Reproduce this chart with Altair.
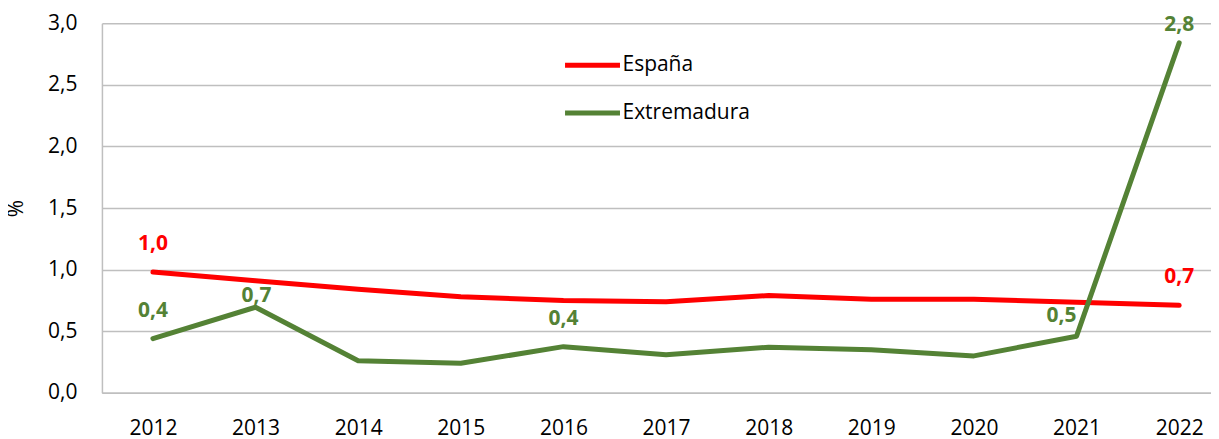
import altair as alt
import pandas as pd

years = [2012, 2013, 2014, 2015, 2016, 2017, 2018, 2019, 2020, 2021, 2022]
espana = [0.98, 0.91, 0.84, 0.78, 0.75, 0.74, 0.79, 0.76, 0.76, 0.735, 0.71]
extremadura = [0.44, 0.695, 0.26, 0.24, 0.375, 0.31, 0.37, 0.35, 0.30, 0.46, 2.84]
series_names = ["España", "Extremadura"]
series_colors = ["#FF0000", "#548235"]
y_ticks = [0.0, 0.5, 1.0, 1.5, 2.0, 2.5, 3.0]

df = pd.DataFrame(
    [{"year": y, "serie": "España", "value": v} for y, v in zip(years, espana)]
    + [{"year": y, "serie": "Extremadura", "value": v} for y, v in zip(years, extremadura)]
)

def lab(v):
    return f"{v:.1f}".replace(".", ",")

df["label"] = df["value"].apply(lab)

FONT = "Open Sans"

x = alt.X(
    "year:Q",
    scale=alt.Scale(domain=[2011.503, 2022.31], nice=False, zero=False),
    axis=alt.Axis(
        values=years, format="d", title=None, grid=False, ticks=False,
        domain=True, domainColor="#BFBFBF", domainWidth=1.5,
        labelFontSize=21, labelFont=FONT, labelColor="#000000", labelPadding=25,
        labelFlush=False, labelOverlap=False,
    ),
)
y = alt.Y(
    "value:Q",
    scale=alt.Scale(domain=[0, 3], nice=False),
    axis=alt.Axis(
        values=y_ticks, title="%", ticks=False, grid=True, gridColor="#BFBFBF", gridWidth=1.5,
        domain=True, domainColor="#BFBFBF", domainWidth=1.5,
        labelExpr="replace(format(datum.value, '.1f'), '.', ',')",
        labelFontSize=21, labelFont=FONT, labelColor="#000000", labelPadding=25,
        titleFontSize=21, titleFont=FONT, titleFontWeight="normal", titleColor="#000000",
        titleX=-85, titleY=185, titleAngle=-90, titleAlign="center", titleBaseline="middle",
    ),
)
color = alt.Color(
    "serie:N",
    scale=alt.Scale(domain=series_names, range=series_colors),
    legend=alt.Legend(
        title=None, orient="none", legendX=461, legendY=12, symbolType="stroke",
        symbolSize=3025, symbolStrokeWidth=5, labelFontSize=21, labelFont=FONT,
        labelColor="#000000", rowPadding=8, labelOffset=0,
    ),
)

lines = alt.Chart(df).mark_line(strokeWidth=5, strokeCap="round", strokeJoin="round").encode(
    x=x, y=y, color=color, order=alt.Order("year:Q"), detail="serie:N"
)

def texts(data, dx, dy):
    return alt.Chart(data).mark_text(
        fontSize=21, font=FONT, fontWeight="bold", dx=dx, dy=dy
    ).encode(
        x="year:Q", y="value:Q", text="label:N",
        color=alt.Color("serie:N", scale=alt.Scale(domain=series_names, range=series_colors), legend=None),
    )

above = df[
    ((df.serie == "España") & (df.year.isin([2012, 2022])))
    | ((df.serie == "Extremadura") & (df.year.isin([2012, 2016])))
]
lab2013 = df[(df.serie == "Extremadura") & (df.year == 2013)]
lab2021 = df[(df.serie == "Extremadura") & (df.year == 2021)]
lab2022 = df[(df.serie == "Extremadura") & (df.year == 2022)]

chart = alt.layer(
    lines,
    texts(above, 0, -28),
    texts(lab2013, 1, -11),
    texts(lab2021, -15, -20),
    texts(lab2022, 0, -18),
).properties(
    width=1110, height=370, autosize=alt.AutoSizeParams(type="none"),
    padding={"left": 94, "top": 15, "right": 0, "bottom": 44},
).configure_view(stroke=None)

chart.save("out.html", embed_options={"renderer": "svg", "actions": False})
